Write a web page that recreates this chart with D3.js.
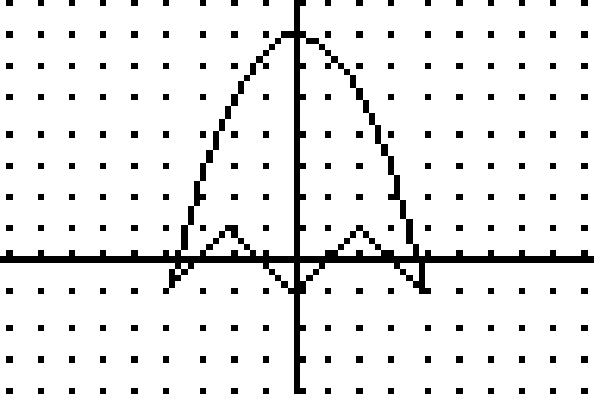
<!DOCTYPE html>
<html>
<head>
<meta charset="utf-8">
<script src="https://cdn.jsdelivr.net/npm/d3@7"></script>
<style>
  html, body { margin: 0; padding: 0; background: #ffffff; overflow: hidden; }
  svg { display: block; }
</style>
</head>
<body>
<svg id="chart" width="600" height="400"></svg>
<script>
// ---- data ----
const xWindow = [-9.1, 9.1];
const yWindow = [-4, 8];
const xGridTicks = [-9, -8, -7, -6, -5, -4, -3, -2, -1, 0, 1, 2, 3, 4, 5, 6, 7, 8, 9];
const yGridTicks = [-4, -3, -2, -1, 0, 1, 2, 3, 4, 5, 6, 7, 8];
const parabolaX = [-4, -3, -2, -1, 0, 1, 2, 3, 4];
const parabolaY = [-1, 2.5, 5, 6.5, 7, 6.5, 5, 2.5, -1];
const zigzagX = [-4, -2, 0, 2, 4];
const zigzagY = [-1, 1, -1, 1, -1];

// ---- calculator screen: 95 x 63 drawable pixels, each 6.25 px ----
const PX = 6.25;
const COLS = 95, ROWS = 63;
const col = d3.scaleLinear().domain(xWindow).range([0, COLS - 1]);
const row = d3.scaleLinear().domain(yWindow).range([ROWS - 1, 0]);
const rc = v => Math.round(v);
const rr = v => Math.ceil(v - 0.5);

const svg = d3.select("#chart");
const pixels = new Map();
function setPx(c, r) {
  if (c < 0 || c >= COLS || r < 0 || r >= ROWS) return;
  pixels.set(c + "," + r, [c, r]);
}

// grid dots
xGridTicks.forEach(xv => yGridTicks.forEach(yv => setPx(rc(col(xv)), rr(row(yv)))));

// axes
const c0 = rc(col(0)), r0 = rr(row(0));
for (let c = 0; c < COLS; c++) setPx(c, r0);
for (let r = 0; r < ROWS; r++) setPx(c0, r);
// tick marks
xGridTicks.forEach(xv => setPx(rc(col(xv)), r0 - 1));
yGridTicks.forEach(yv => setPx(c0 + 1, rr(row(yv))));

// curves: build paths in calculator-pixel space, then rasterise
function rasterise(xs, ys, curve) {
  const pts = xs.map((x, i) => [x, ys[i]]);
  const gen = d3.line().x(d => col(d[0])).y(d => row(d[1])).curve(curve);
  const tmp = svg.append("path").attr("d", gen(pts)).attr("fill", "none").attr("stroke", "none");
  const node = tmp.node();
  const len = node.getTotalLength();
  const chain = [];
  for (let s = 0; s <= len + 1e-6; s += 0.02) {
    const p = node.getPointAtLength(Math.min(s, len));
    const q = [rc(p.x), rr(p.y)];
    const last = chain[chain.length - 1];
    if (last && last[0] === q[0] && last[1] === q[1]) continue;
    if (chain.length >= 2) {
      const prev = chain[chain.length - 2];
      if (Math.abs(prev[0] - q[0]) <= 1 && Math.abs(prev[1] - q[1]) <= 1) chain.pop();
    }
    chain.push(q);
  }
  tmp.remove();
  chain.forEach(q => setPx(q[0], q[1]));
}
rasterise(parabolaX, parabolaY, d3.curveNatural);
rasterise(zigzagX, zigzagY, d3.curveLinear);

svg.append("rect").attr("width", 600).attr("height", 400).attr("fill", "#ffffff");
svg.append("g")
  .attr("shape-rendering", "crispEdges")
  .selectAll("rect")
  .data(Array.from(pixels.values()))
  .join("rect")
  .attr("x", d => d[0] * PX)
  .attr("y", d => d[1] * PX)
  .attr("width", PX)
  .attr("height", PX)
  .attr("fill", "#000000");
</script>
</body>
</html>
